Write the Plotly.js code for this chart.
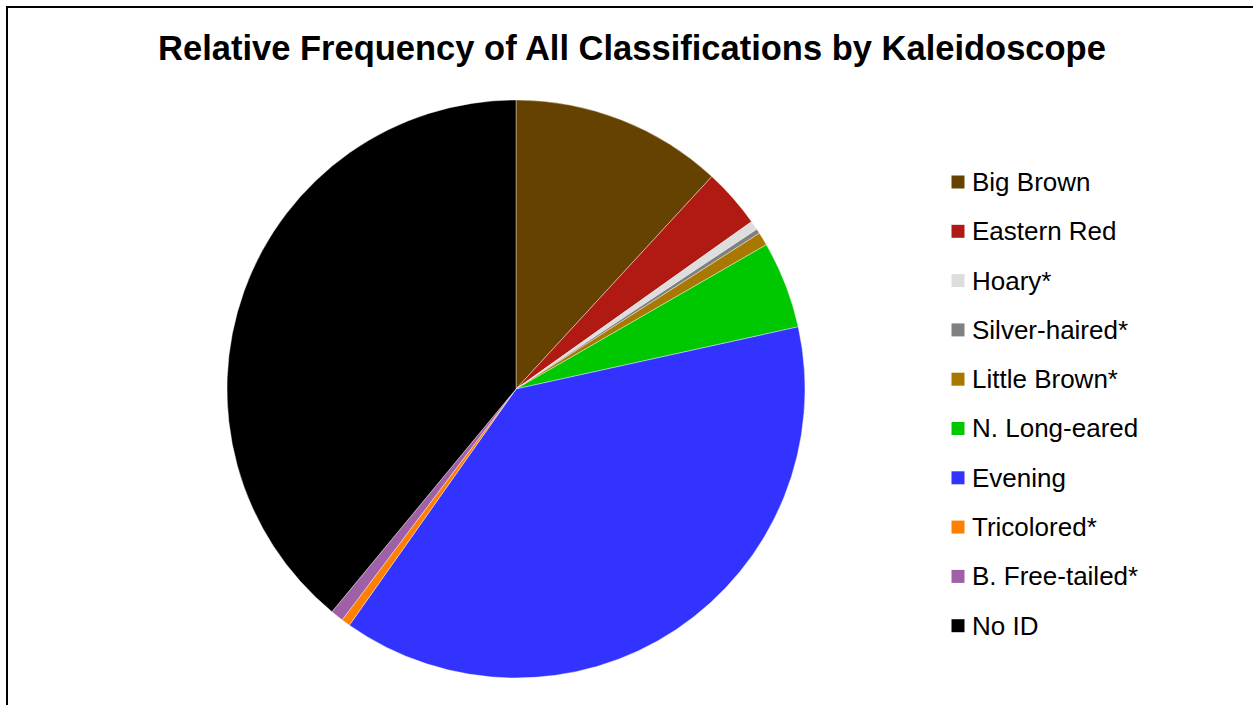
<!DOCTYPE html>
<html>
<head>
<meta charset="utf-8">
<script src="https://cdn.plot.ly/plotly-3.0.1.min.js"></script>
<style>
  html, body { margin: 0; padding: 0; background: #fff; overflow: hidden; }
  #wrap { position: relative; width: 1253px; height: 705px; overflow: hidden; }
  #frame { position: absolute; left: 6px; top: 6px; width: 1300px; height: 800px;
           border-left: 2px solid #000; border-top: 2px solid #000; box-sizing: border-box; pointer-events: none; }
  #chart { position: absolute; left: 0; top: 0; width: 1253px; height: 705px; }
</style>
</head>
<body>
<div id="wrap">
  <div id="chart"></div>
  <div id="frame"></div>
</div>
<script>
const categories = ["Big Brown", "Eastern Red", "Hoary*", "Silver-haired*", "Little Brown*",
                    "N. Long-eared", "Evening", "Tricolored*", "B. Free-tailed*", "No ID"];
const values = [11.85, 3.32, 0.51, 0.26, 0.74, 4.87, 38.23, 0.49, 0.72, 39.01];
const colors = ["#664200", "#B01A12", "#DDDDDD", "#808080", "#A87800",
                "#00C800", "#3333FF", "#FF7F00", "#A060A8", "#000000"];
const titleText = "Relative Frequency of All Classifications by Kaleidoscope";

const W = 1253, H = 705;
const cx = 516, cy = 389, r = 289;

const trace = {
  type: "pie",
  labels: categories,
  values: values,
  sort: false,
  direction: "clockwise",
  rotation: 0,
  textinfo: "none",
  hoverinfo: "label+percent",
  showlegend: false,
  marker: { colors: colors, line: { color: "#ffffff", width: 0.4 } },
  domain: {
    x: [(cx - r) / W, (cx + r) / W],
    y: [(H - cy - r) / H, (H - cy + r) / H]
  }
};

// Legend built from the category/colour arrays
const legX = 958, legY0 = 182, legStep = 49.3, sq = 13;
const shapes = [];
const annotations = [];
categories.forEach((name, i) => {
  const yc = legY0 + i * legStep;
  shapes.push({
    type: "rect", xref: "paper", yref: "paper",
    x0: (legX - sq / 2) / W, x1: (legX + sq / 2) / W,
    y0: (H - yc - sq / 2) / H, y1: (H - yc + sq / 2) / H,
    fillcolor: colors[i], line: { width: 0 }
  });
  annotations.push({
    xref: "paper", yref: "paper",
    x: 970 / W, y: (H - yc) / H,
    xanchor: "left", yanchor: "middle",
    text: name, showarrow: false,
    font: { family: "Liberation Sans, Arial, sans-serif", size: 26, color: "#000" }
  });
});

const layout = {
  width: W, height: H,
  margin: { l: 0, r: 0, t: 0, b: 0 },
  paper_bgcolor: "#ffffff",
  title: {
    text: "<b>" + titleText + "</b>",
    x: 632 / W, xanchor: "center",
    y: (H - 48) / H, yanchor: "middle",
    font: { family: "Liberation Sans, Arial, sans-serif", size: 34.5, color: "#000" }
  },
  shapes: shapes,
  annotations: annotations
};

Plotly.newPlot("chart", [trace], layout, { displayModeBar: false, staticPlot: true });
</script>
</body>
</html>
